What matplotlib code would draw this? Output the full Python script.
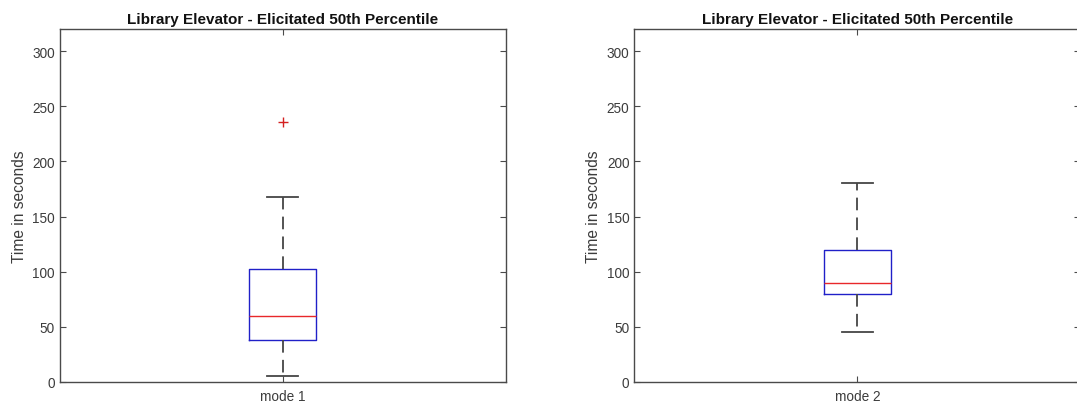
import matplotlib
matplotlib.use("Agg")
import matplotlib.pyplot as plt

# ---- data ----
titles = ["Library Elevator - Elicitated 50th Percentile",
          "Library Elevator - Elicitated 50th Percentile"]
labels = ["mode 1", "mode 2"]
q1 = [38, 80]
med = [60, 90]
q3 = [102, 120]
whislo = [5, 45]
whishi = [168, 180]
fliers = [[236], []]
yticks = [0, 50, 100, 150, 200, 250, 300]
ylim = (0, 320)
ylabel = "Time in seconds"

plt.rcParams['font.family'] = ['Liberation Sans', 'DejaVu Sans']
W, H = 1077, 406
fig = plt.figure(figsize=(W / 100, H / 100), dpi=100)
fig.patch.set_facecolor('white')

axcol = '#4a4a4a'
txtcol = '#3c3c3c'
lefts = [59.7, 634.3]
bottom_px = 382.7
top_px = 30.3
width_px = 446

for i in range(2):
    ax = fig.add_axes([lefts[i] / W, (H - bottom_px) / H, width_px / W, (bottom_px - top_px) / H])
    stats = [dict(med=med[i], q1=q1[i], q3=q3[i], whislo=whislo[i], whishi=whishi[i],
                  fliers=fliers[i], label=labels[i])]
    ax.bxp(stats, positions=[1], widths=0.15, capwidths=0.07,
           boxprops=dict(color='#2020c8', linewidth=1.0),
           medianprops=dict(color='#e8282a', linewidth=1.0),
           whiskerprops=dict(color='#454545', linewidth=1.3, linestyle=(0, (7, 4))),
           capprops=dict(color='#454545', linewidth=1.3),
           flierprops=dict(marker='+', markeredgecolor='#d42020', markersize=7,
                           markeredgewidth=1.0, linestyle='none'))
    ax.set_xlim(0.5, 1.5)
    ax.set_ylim(*ylim)
    ax.set_yticks(yticks)
    ax.set_xticks([1])
    ax.set_xticklabels([labels[i]])
    ax.tick_params(axis='both', direction='in', length=4, width=0.8, color=axcol,
                   labelcolor=txtcol, labelsize=9.8, top=True, right=True)
    ax.tick_params(axis='x', pad=5.5)
    for s in ax.spines.values():
        s.set_color(axcol)
        s.set_linewidth(1.0)
    ax.set_ylabel(ylabel, fontsize=11.2, color=txtcol, labelpad=4)
    ax.set_title(titles[i], fontsize=11, fontweight='bold', color='#111111', pad=4.5)

fig.savefig("out.png", dpi=100, facecolor='white')
